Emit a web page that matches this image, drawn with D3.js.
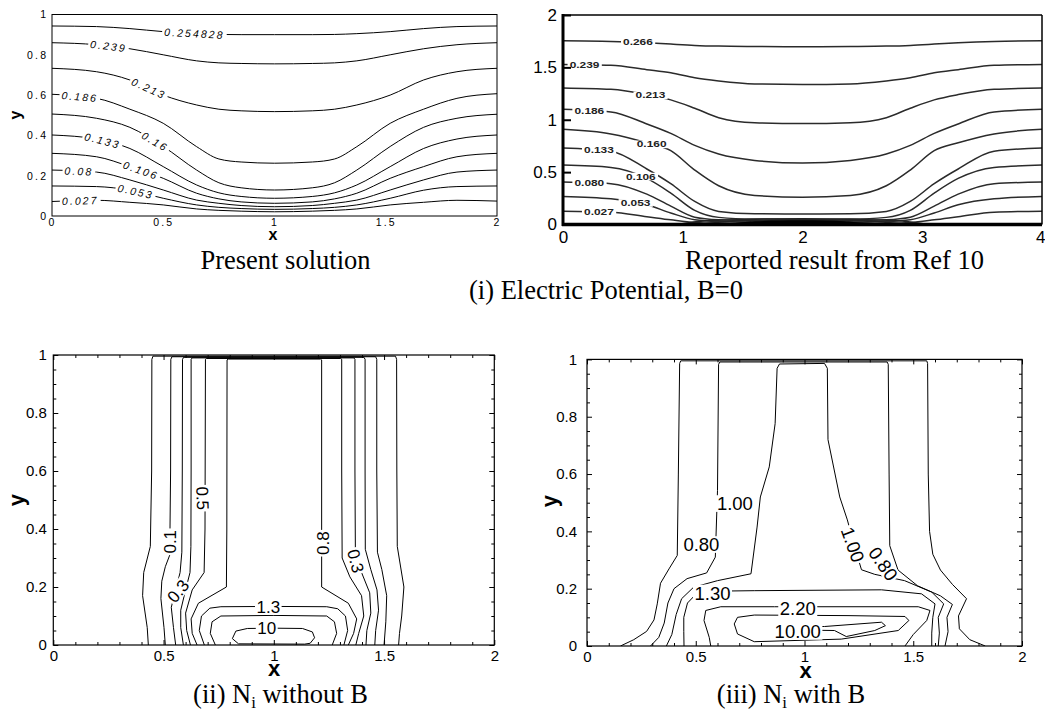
<!DOCTYPE html>
<html><head><meta charset="utf-8">
<script src="https://cdn.jsdelivr.net/npm/d3@7"></script>
<style>
body{margin:0;background:#fff}
svg{display:block;background:#fff}
text{font-family:"Liberation Sans",Arial,sans-serif;fill:#000}
.cap{font-family:"Liberation Serif","Times New Roman",serif;font-size:26.5px}
</style></head>
<body><svg id="c" width="1045" height="715"></svg>
<script>
// ---------------- Panel (i) left: present solution ----------------
const p1X = [0,0.2,0.35,0.5,0.65,0.75,0.85,1.0,1.17,1.27,1.37,1.52,1.67,1.82,2.0];
const p1Levels = ["0.254828","0.239","0.213","0.186","0.16","0.133","0.106","0.08","0.053","0.027"];
const p1Y = [
 [0.943,0.940,0.930,0.915,0.905,0.901,0.900,0.900,0.900,0.901,0.905,0.915,0.930,0.940,0.943],
 [0.860,0.850,0.830,0.800,0.770,0.760,0.757,0.755,0.757,0.760,0.770,0.800,0.830,0.850,0.860],
 [0.733,0.716,0.675,0.600,0.551,0.530,0.522,0.518,0.522,0.530,0.551,0.600,0.675,0.716,0.733],
 [0.604,0.584,0.530,0.460,0.344,0.283,0.268,0.262,0.268,0.283,0.344,0.460,0.530,0.584,0.607],
 [0.506,0.485,0.440,0.345,0.228,0.165,0.140,0.129,0.140,0.165,0.228,0.345,0.440,0.485,0.505],
 [0.402,0.382,0.335,0.245,0.154,0.115,0.097,0.088,0.097,0.115,0.154,0.245,0.335,0.382,0.402],
 [0.311,0.294,0.245,0.187,0.113,0.085,0.070,0.063,0.070,0.085,0.113,0.187,0.245,0.294,0.311],
 [0.228,0.218,0.179,0.129,0.079,0.063,0.052,0.046,0.052,0.063,0.079,0.129,0.179,0.218,0.228],
 [0.149,0.146,0.128,0.088,0.055,0.043,0.037,0.033,0.037,0.043,0.055,0.088,0.128,0.146,0.149],
 [0.072,0.078,0.068,0.055,0.035,0.028,0.024,0.021,0.024,0.028,0.035,0.055,0.068,0.078,0.074]
];
const p1LabelX = [0.64,0.254,0.435,0.125,0.463,0.227,0.399,0.121,0.376,0.127];
const p1XTicks = [0,0.5,1,1.5,2];
const p1XTickLabels = ["0","0.5","1","1.5","2"];
const p1YTicks = [0,0.2,0.4,0.6,0.8,1];
const p1YTickLabels = ["0","0.2","0.4","0.6","0.8","1"];

// ---------------- Panel (i) right: Ref 10 ----------------
const p2X = [0,0.4,0.7,0.9,1.1,1.3,1.6,2.0,2.4,2.7,2.9,3.1,3.3,3.6,4.0];
const p2Levels = ["0.266","0.239","0.213","0.186","0.160","0.133","0.106","0.080","0.053","0.027"];
const p2Y = [
 [1.754,1.748,1.735,1.722,1.710,1.703,1.699,1.697,1.699,1.703,1.710,1.722,1.735,1.748,1.754],
 [1.528,1.520,1.478,1.448,1.400,1.370,1.342,1.337,1.342,1.370,1.400,1.448,1.478,1.520,1.528],
 [1.304,1.290,1.240,1.190,1.110,1.020,0.972,0.964,0.972,1.020,1.110,1.190,1.240,1.290,1.304],
 [1.100,1.075,0.960,0.870,0.755,0.673,0.612,0.587,0.612,0.673,0.755,0.870,0.960,1.075,1.100],
 [0.909,0.865,0.780,0.705,0.520,0.370,0.278,0.261,0.278,0.370,0.520,0.705,0.780,0.865,0.909],
 [0.730,0.700,0.530,0.390,0.220,0.125,0.102,0.100,0.102,0.125,0.220,0.390,0.530,0.700,0.730],
 [0.567,0.545,0.440,0.300,0.135,0.068,0.052,0.050,0.052,0.068,0.135,0.300,0.440,0.545,0.567],
 [0.405,0.390,0.290,0.175,0.070,0.045,0.037,0.035,0.037,0.045,0.070,0.175,0.290,0.390,0.405],
 [0.268,0.245,0.188,0.110,0.045,0.028,0.022,0.020,0.022,0.028,0.045,0.110,0.188,0.245,0.268],
 [0.127,0.118,0.075,0.045,0.020,0.013,0.010,0.008,0.010,0.013,0.020,0.045,0.075,0.118,0.127]
];
const p2LabelX = [0.626,0.18,0.73,0.22,0.74,0.30,0.65,0.22,0.606,0.30];
const p2DenseLines = [
 [[0.95,0],[1.2,0.035],[1.6,0.05],[2.0,0.055],[2.4,0.05],[2.8,0.035],[3.05,0]],
 [[1.15,0],[1.4,0.03],[1.8,0.04],[2.2,0.04],[2.6,0.03],[2.85,0]],
 [[1.3,0],[1.6,0.025],[2.0,0.03],[2.4,0.025],[2.7,0]]
];
const p2Core = [[1.35,0],[1.6,0.03],[2.0,0.04],[2.35,0.03],[2.6,0]];
const p2XTicks = [0,1,2,3,4];
const p2XTickLabels = ["0","1","2","3","4"];
const p2YTicks = [0,0.5,1,1.5,2];
const p2YTickLabels = ["0","0.5","1","1.5","2"];

// ---------------- Panel (ii): N_i without B ----------------
const p3Lines = [
 [[0.431,0],[0.426,0.06],[0.405,0.17],[0.410,0.25],[0.440,0.34],[0.446,0.6],[0.447,0.985],[0.452,0.996],[1.552,0.996],[1.557,0.985],[1.558,0.6],[1.560,0.34],[1.590,0.2],[1.580,0.1],[1.570,0.04],[1.566,0]],
 [[0.508,0],[0.502,0.06],[0.488,0.16],[0.492,0.22],[0.508,0.27],[0.528,0.31],[0.532,0.6],[0.533,0.985],[0.538,0.994],[1.462,0.994],[1.467,0.985],[1.467,0.6],[1.470,0.32],[1.490,0.26],[1.512,0.17],[1.508,0.08],[1.500,0]],
 [[0.555,0],[0.545,0.06],[0.535,0.13],[0.555,0.19],[0.575,0.25],[0.583,0.32],[0.585,0.6],[0.586,0.985],[0.591,0.992],[1.409,0.992],[1.414,0.985],[1.414,0.6],[1.415,0.33],[1.440,0.26],[1.468,0.19],[1.475,0.12],[1.462,0.05],[1.458,0]],
 [[0.590,0],[0.578,0.06],[0.578,0.12],[0.600,0.19],[0.620,0.25],[0.624,0.34],[0.625,0.6],[0.625,0.985],[0.630,0.990],[1.363,0.990],[1.368,0.985],[1.368,0.6],[1.370,0.32],[1.398,0.25],[1.435,0.18],[1.440,0.11],[1.422,0.05],[1.418,0]],
 [[0.622,0],[0.605,0.05],[0.600,0.11],[0.630,0.19],[0.684,0.25],[0.688,0.4],[0.690,0.985],[0.695,0.988],[1.303,0.988],[1.308,0.985],[1.308,0.6],[1.310,0.30],[1.345,0.235],[1.398,0.17],[1.408,0.10],[1.385,0.04],[1.372,0]],
 [[0.652,0],[0.630,0.04],[0.625,0.09],[0.658,0.144],[0.785,0.20],[0.787,0.4],[0.788,0.983],[0.793,0.986],[1.212,0.986],[1.217,0.983],[1.217,0.4],[1.217,0.20],[1.338,0.144],[1.376,0.09],[1.362,0.04],[1.338,0]],
 [[0.685,0],[0.662,0.05],[0.672,0.10],[0.71,0.127],[0.76,0.132],[1.0,0.133],[1.24,0.132],[1.29,0.125],[1.325,0.10],[1.335,0.05],[1.318,0]],
 [[0.735,0],[0.712,0.04],[0.72,0.08],[0.76,0.10],[1.0,0.102],[1.24,0.10],[1.275,0.08],[1.285,0.04],[1.265,0]],
 [[0.84,0.004],[0.812,0.022],[0.828,0.048],[0.88,0.057],[1.0,0.058],[1.13,0.057],[1.175,0.045],[1.185,0.025],[1.165,0.006],[1.14,0.003],[0.84,0.004]]
];
const p3LabelText = ["0.1","0.5","0.3","0.8","0.3","1.3","10"];
const p3LabelPos = [[0.529,0.356],[0.678,0.506],[0.565,0.186],[1.222,0.351],[1.372,0.29],[0.975,0.13],[0.968,0.058]];
const p3LabelRot = [-90,88,-51,-90,76,0,0];

// ---------------- Panel (iii): N_i with B ----------------
const p4Lines = [
 [[0.154,0],[0.215,0.022],[0.274,0.051],[0.308,0.091],[0.323,0.147],[0.338,0.219],[0.377,0.269],[0.415,0.316],[0.420,0.60],[0.426,0.986],[0.431,0.995],[1.562,0.995],[1.566,0.986],[1.569,0.60],[1.575,0.40],[1.590,0.32],[1.625,0.265],[1.680,0.215],[1.745,0.165],[1.708,0.105],[1.712,0.06],[1.760,0.022],[1.831,0]],
 [[0.292,0],[0.330,0.03],[0.355,0.08],[0.372,0.15],[0.400,0.20],[0.460,0.235],[0.550,0.255],[0.590,0.31],[0.600,0.543],[0.605,0.983],[0.611,0.991],[1.380,0.991],[1.385,0.983],[1.389,0.60],[1.392,0.35],[1.430,0.265],[1.520,0.21],[1.625,0.175],[1.680,0.145],[1.655,0.10],[1.660,0.05],[1.646,0]],
 [[0.365,0],[0.390,0.04],[0.410,0.11],[0.435,0.165],[0.490,0.205],[0.600,0.228],[0.754,0.252],[0.782,0.415],[0.797,0.52],[0.838,0.625],[0.865,0.776],[0.874,0.969],[0.885,0.984],[1.092,0.986],[1.105,0.969],[1.108,0.72],[1.162,0.52],[1.197,0.44],[1.231,0.345],[1.262,0.266],[1.323,0.25],[1.460,0.228],[1.585,0.188],[1.640,0.147],[1.615,0.10],[1.620,0.045],[1.615,0]],
 [[0.446,0],[0.445,0.05],[0.445,0.10],[0.462,0.15],[0.500,0.180],[0.554,0.191],[0.769,0.193],[1.354,0.196],[1.538,0.182],[1.600,0.147],[1.590,0.10],[1.585,0.045],[1.585,0]],
 [[0.569,0],[0.562,0.03],[0.538,0.089],[0.546,0.124],[0.615,0.137],[0.862,0.137],[1.523,0.137],[1.577,0.124],[1.562,0.089],[1.500,0.04],[1.462,0]],
 [[0.677,0.077],[0.692,0.10],[0.769,0.108],[1.20,0.106],[1.462,0.103],[1.48,0.089],[1.431,0.054],[1.169,0.024],[0.769,0.015],[0.692,0.042],[0.677,0.077]],
 [[0.96,0.068],[1.092,0.068],[1.354,0.083],[1.372,0.071],[1.323,0.054],[1.192,0.033],[1.138,0.054],[0.96,0.056]]
];
const p4LabelText = ["1.00","0.80","1.30","2.20","10.00","1.00","0.80"];
const p4LabelPos = [[0.68,0.497],[0.526,0.354],[0.577,0.185],[0.969,0.132],[0.969,0.051],[1.223,0.354],[1.362,0.287]];
const p4LabelRot = [0,0,0,0,0,70,55];

const nXTicks = [0,0.5,1,1.5,2];
const nXTickLabels = ["0","0.5","1","1.5","2"];
const nYTicks = [0,0.2,0.4,0.6,0.8,1];
const nYTickLabels = ["0","0.2","0.4","0.6","0.8","1"];
const nXMinor = [0.1,0.2,0.3,0.4,0.6,0.7,0.8,0.9,1.1,1.2,1.3,1.4,1.6,1.7,1.8,1.9];
const nYMinor = [0.05,0.1,0.15,0.25,0.3,0.35,0.45,0.5,0.55,0.65,0.7,0.75,0.85,0.9,0.95];

// ================= drawing =================
const svg = d3.select("#c");
const defs = svg.append("defs");

function makePanel(id, x0, x1, yT, yB, xd, yd) {
  const x = d3.scaleLinear().domain(xd).range([x0, x1]);
  const y = d3.scaleLinear().domain(yd).range([yB, yT]);
  defs.append("clipPath").attr("id", id).append("rect")
    .attr("x", x0).attr("y", yT - 1).attr("width", x1 - x0).attr("height", yB - yT + 1);
  const g = svg.append("g");
  const plot = g.append("g").attr("clip-path", `url(#${id})`);
  return {x, y, g, plot};
}

// contour label with a white gap box under it
function contourLabel(parent, tx, ty, rot, sx, text, fs, styles, padX) {
  const g = parent.append("g").attr("transform", `translate(${tx},${ty}) rotate(${rot}) scale(${sx},1)`);
  const r = g.append("rect").attr("fill", "#fff");
  const t = g.append("text").attr("text-anchor", "middle").attr("dy", "0.36em")
    .style("font-size", fs + "px").text(text);
  Object.entries(styles).forEach(([k, v]) => t.style(k, v));
  const bb = t.node().getBBox();
  r.attr("x", bb.x - padX).attr("width", bb.width + 2 * padX)
   .attr("y", -fs * 0.45).attr("height", fs * 0.9);
}

function addAxes(P, o) {
  const {x, y, g} = P;
  const [yB, yT] = y.range(), [x0, x1] = x.range();
  const bx = g.append("g").attr("transform", `translate(0,${yB})`)
    .call(d3.axisBottom(x).tickValues(o.xTicks).tickFormat((d, i) => o.xLab[i])
      .tickSizeInner(-(o.xMajor ?? o.major)).tickSizeOuter(0).tickPadding(o.xPad));
  const ly = g.append("g").attr("transform", `translate(${x0},0)`)
    .call(d3.axisLeft(y).tickValues(o.yTicks).tickFormat((d, i) => o.yLab[i])
      .tickSizeInner(-o.major).tickSizeOuter(0).tickPadding(o.yPad));
  const extra = [];
  if (o.box) {
    extra.push(g.append("g").attr("transform", `translate(0,${yT})`)
      .call(d3.axisTop(x).tickValues(o.xTicks).tickFormat("").tickSizeInner(-o.major).tickSizeOuter(0)));
    extra.push(g.append("g").attr("transform", `translate(${x1},0)`)
      .call(d3.axisRight(y).tickValues(o.yTicks).tickFormat("").tickSizeInner(-o.major).tickSizeOuter(0)));
  }
  if (o.xMinor) {
    [[d3.axisBottom, yB], [d3.axisTop, yT]].forEach(([f, t]) => extra.push(
      g.append("g").attr("transform", `translate(0,${t})`)
        .call(f(x).tickValues(o.xMinor).tickFormat("").tickSizeInner(-o.minor).tickSizeOuter(0))));
    [[d3.axisLeft, x0], [d3.axisRight, x1]].forEach(([f, t]) => extra.push(
      g.append("g").attr("transform", `translate(${t},0)`)
        .call(f(y).tickValues(o.yMinor).tickFormat("").tickSizeInner(-o.minor).tickSizeOuter(0))));
  }
  [bx, ly, ...extra].forEach(a => {
    a.select(".domain").remove();
    a.attr("font-family", null).attr("font-size", null);
    a.selectAll("line").attr("stroke", "#000").attr("stroke-width", o.tickW || 1);
  });
  [bx, ly].forEach(a => a.selectAll("text")
    .style("font-size", o.fs + "px").style("letter-spacing", (o.ls || 0) + "px"));
  if (o.ls) ly.selectAll("text").attr("dx", o.ls);
  return {bx, ly};
}

function frame(P, w) {
  const [x0, x1] = P.x.range(), [yB, yT] = P.y.range();
  P.g.append("rect").attr("x", x0).attr("y", yT).attr("width", x1 - x0).attr("height", yB - yT)
    .attr("fill", "none").attr("stroke", "#000").attr("stroke-width", w);
}

function title(P, tx, ty, yx, yy, fs) {
  P.g.append("text").attr("x", tx).attr("y", ty).attr("text-anchor", "middle")
    .style("font-weight", "bold").style("font-size", fs + "px").text("x");
  P.g.append("text").attr("transform", `translate(${yx},${yy}) rotate(-90)`)
    .attr("text-anchor", "middle").attr("dy", "0.3em")
    .style("font-weight", "bold").style("font-size", fs + "px").text("y");
}

function interpY(xs, ys, xv) {
  const i = Math.max(0, Math.min(xs.length - 2, d3.bisectRight(xs, xv) - 1));
  const t = (xv - xs[i]) / (xs[i + 1] - xs[i]);
  return ys[i] + t * (ys[i + 1] - ys[i]);
}

// ---------- Panel 1 ----------
const P1 = makePanel("c1", 52, 497, 14.5, 216, [0, 2], [0, 1]);
{
  const line = d3.line().x(d => P1.x(d[0])).y(d => P1.y(d[1])).curve(d3.curveMonotoneX);
  p1Y.forEach(ys => P1.plot.append("path").attr("d", line(p1X.map((xv, i) => [xv, ys[i]])))
    .attr("fill", "none").attr("stroke", "#000").attr("stroke-width", 1));
  p1Levels.forEach((lab, k) => {
    const lx = p1LabelX[k];
    const yv = interpY(p1X, p1Y[k], lx);
    const a = P1.x(lx - 0.04), b = P1.x(lx + 0.04);
    const ya = P1.y(interpY(p1X, p1Y[k], lx - 0.04)), yb = P1.y(interpY(p1X, p1Y[k], lx + 0.04));
    const ang = Math.atan2(yb - ya, b - a) * 180 / Math.PI;
    contourLabel(P1.plot, P1.x(lx), P1.y(yv), ang, 1, lab, 10.5,
      {"font-style": "italic", "letter-spacing": "2.1px"}, 2);
  });
  frame(P1, 1);
  addAxes(P1, {xTicks: p1XTicks, xLab: p1XTickLabels, yTicks: p1YTicks, yLab: p1YTickLabels,
    major: 0, xPad: 2.5, yPad: 6, fs: 10.5, ls: 2.2});
  title(P1, 273, 239.5, 16, 115, 16);
}

// ---------- Panel 2 ----------
const P2 = makePanel("c2", 563, 1042, 15, 224.5, [0, 4], [0, 2]);
{
  const line = d3.line().x(d => P2.x(d[0])).y(d => P2.y(d[1])).curve(d3.curveMonotoneX);
  p2Y.forEach(ys => P2.plot.append("path").attr("d", line(p2X.map((xv, i) => [xv, ys[i]])))
    .attr("fill", "none").attr("stroke", "#2b2b2b").attr("stroke-width", 1.5));
  const lin = d3.line().x(d => P2.x(d[0])).y(d => P2.y(d[1])).curve(d3.curveCatmullRom);
  p2DenseLines.forEach(pts => P2.plot.append("path").attr("d", lin(pts))
    .attr("fill", "none").attr("stroke", "#222").attr("stroke-width", 1.5));
  P2.plot.append("path").attr("d", lin(p2Core) + "Z").attr("fill", "#000");
  p2Levels.forEach((lab, k) => {
    const lx = p2LabelX[k];
    const yv = interpY(p2X, p2Y[k], lx);
    contourLabel(P2.plot, P2.x(lx), P2.y(yv), 0, 1.4, lab, 8.5,
      {"font-weight": "bold", "fill": "#222"}, 1.5);
  });
  const [x0, x1] = P2.x.range(), [yB, yT] = P2.y.range();
  P2.g.append("line").attr("x1", x0).attr("x2", x1).attr("y1", yT).attr("y2", yT).attr("stroke", "#000").attr("stroke-width", 1.5);
  P2.g.append("line").attr("x1", x1).attr("x2", x1).attr("y1", yT).attr("y2", yB).attr("stroke", "#000").attr("stroke-width", 1.5);
  P2.g.append("line").attr("x1", x0).attr("x2", x0).attr("y1", yT - 1).attr("y2", yB + 1.5).attr("stroke", "#000").attr("stroke-width", 3);
  P2.g.append("line").attr("x1", x0 - 1).attr("x2", x1).attr("y1", yB).attr("y2", yB).attr("stroke", "#000").attr("stroke-width", 3.5);
  const ax = addAxes(P2, {xTicks: p2XTicks, xLab: p2XTickLabels, yTicks: p2YTicks, yLab: p2YTickLabels,
    major: 8, xMajor: 0, xPad: 6, yPad: 6, fs: 17, tickW: 2});
  // keep the last tick label inside the picture, as the reference shows it at the very edge
  ax.bx.selectAll("g.tick").filter(d => d === 4).select("text").attr("text-anchor", "end").attr("x", 3);
}

// ---------- Panel 3 ----------
const P3 = makePanel("c3", 53.3, 494.3, 355, 645, [0, 2], [0, 1]);
{
  const line = d3.line().x(d => P3.x(d[0])).y(d => P3.y(d[1]));
  p3Lines.forEach(pts => P3.plot.append("path").attr("d", line(pts))
    .attr("fill", "none").attr("stroke", "#000").attr("stroke-width", 1).attr("stroke-linejoin", "round"));
  p3LabelText.forEach((lab, k) => {
    contourLabel(P3.plot, P3.x(p3LabelPos[k][0]), P3.y(p3LabelPos[k][1]), p3LabelRot[k], 1, lab, 17, {}, 1.5);
  });
  frame(P3, 1.2);
  addAxes(P3, {xTicks: nXTicks, xLab: nXTickLabels, yTicks: nYTicks, yLab: nYTickLabels,
    major: 5, minor: 3, xMinor: nXMinor, yMinor: nYMinor, box: true, xPad: 5, yPad: 6.5, fs: 15});
  title(P3, 274, 676, 17, 500, 22);
}

// ---------- Panel 4 ----------
const P4 = makePanel("c4", 587, 1022, 359.4, 646, [0, 2], [0, 1]);
{
  const line = d3.line().x(d => P4.x(d[0])).y(d => P4.y(d[1]));
  p4Lines.forEach(pts => P4.plot.append("path").attr("d", line(pts))
    .attr("fill", "none").attr("stroke", "#000").attr("stroke-width", 1).attr("stroke-linejoin", "round"));
  p4LabelText.forEach((lab, k) => {
    contourLabel(P4.plot, P4.x(p4LabelPos[k][0]), P4.y(p4LabelPos[k][1]), p4LabelRot[k], 1, lab, 18.5, {}, 1.5);
  });
  frame(P4, 1.2);
  addAxes(P4, {xTicks: nXTicks, xLab: nXTickLabels, yTicks: nYTicks, yLab: nYTickLabels,
    major: 5, minor: 3, xMinor: nXMinor, yMinor: nYMinor, box: true, xPad: 5.5, yPad: 10, fs: 15});
  title(P4, 805.5, 678, 550, 501, 22);
}

// ---------- captions ----------
function cap(x, y, parts) {
  const t = svg.append("text").attr("class", "cap").attr("x", x).attr("y", y).attr("text-anchor", "middle");
  parts.forEach(p => {
    const s = t.append("tspan").text(p.t);
    if (p.sub) s.attr("dy", 5).style("font-size", "17px");
    if (p.up) s.attr("dy", -5);
  });
}
cap(285.5, 268.5, [{t: "Present solution"}]);
cap(834.5, 268.5, [{t: "Reported result from Ref 10"}]);
cap(606, 298.5, [{t: "(i) Electric Potential, B=0"}]);
cap(280.5, 703, [{t: "(ii) N"}, {t: "i", sub: true}, {t: " without B", up: true}]);
cap(791, 703, [{t: "(iii) N"}, {t: "i", sub: true}, {t: " with B", up: true}]);
</script>
</body></html>
